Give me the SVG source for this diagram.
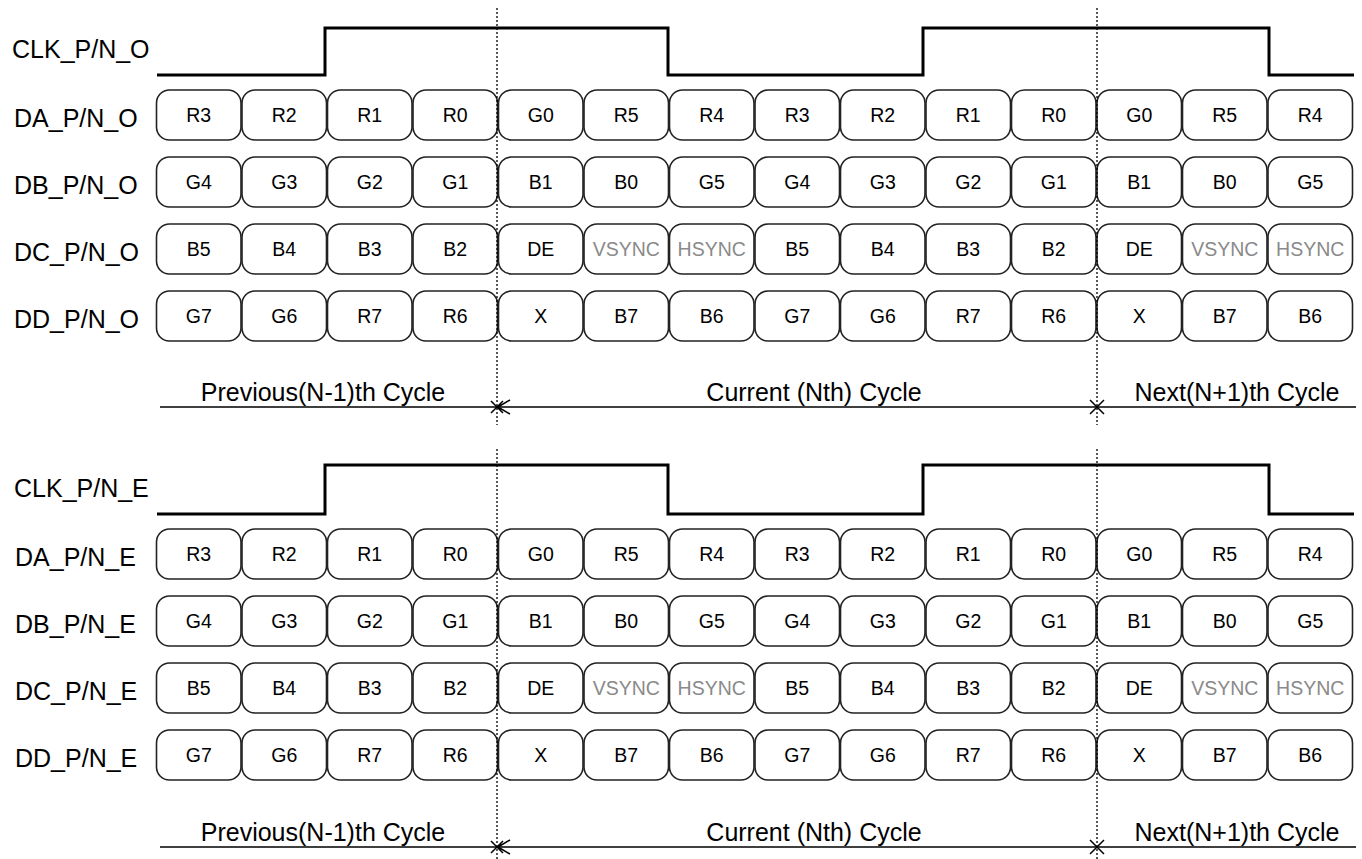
<svg xmlns="http://www.w3.org/2000/svg" width="1362" height="859" viewBox="0 0 1362 859">
<style>
text{font-family:"Liberation Sans",Arial,sans-serif;fill:#000}
.lbl{font-size:25px}
.cyc{font-size:25px;text-anchor:middle}
.b rect{fill:#fff;stroke:#222;stroke-width:1.6}
.b text{font-size:19.5px;text-anchor:middle}
.b text.g{fill:#8a8a8a}
.clk{fill:none;stroke:#000;stroke-width:3}
.dot{stroke:#000;stroke-width:1.3;stroke-dasharray:2,2;fill:none}
.cl{stroke:#000;stroke-width:1.5;fill:none}
</style>
<rect width="1362" height="859" fill="#fff"/>
<defs>
<g id="tpl">
</g>
</defs>

<!-- ODD section -->
<g id="labels-odd">
<text class="lbl" x="12" y="58">CLK_P/N_O</text>
<text class="lbl" x="14" y="126.5">DA_P/N_O</text>
<text class="lbl" x="14" y="193.5">DB_P/N_O</text>
<text class="lbl" x="14" y="260.5">DC_P/N_O</text>
<text class="lbl" x="14" y="327.5">DD_P/N_O</text>
</g>
<g id="clk-odd"><path class="clk" d="M157,75 H325 V28 H668 V75 H923 V28 H1269 V75 H1354"/></g>

<g id="row-da-o" class="b" transform="translate(0,90)">
<g id="da-o-0"><rect x="156.5" y="0" width="84.5" height="50" rx="13"/><text x="198.75" y="32">R3</text></g>
<g id="da-o-1"><rect x="242" y="0" width="84.5" height="50" rx="13"/><text x="284.25" y="32">R2</text></g>
<g id="da-o-2"><rect x="327.5" y="0" width="84.5" height="50" rx="13"/><text x="369.75" y="32">R1</text></g>
<g id="da-o-3"><rect x="413" y="0" width="84.5" height="50" rx="13"/><text x="455.25" y="32">R0</text></g>
<g id="da-o-4"><rect x="498.5" y="0" width="84.5" height="50" rx="13"/><text x="540.75" y="32">G0</text></g>
<g id="da-o-5"><rect x="584" y="0" width="84.5" height="50" rx="13"/><text x="626.25" y="32">R5</text></g>
<g id="da-o-6"><rect x="669.5" y="0" width="84.5" height="50" rx="13"/><text x="711.75" y="32">R4</text></g>
<g id="da-o-7"><rect x="755" y="0" width="84.5" height="50" rx="13"/><text x="797.25" y="32">R3</text></g>
<g id="da-o-8"><rect x="840.5" y="0" width="84.5" height="50" rx="13"/><text x="882.75" y="32">R2</text></g>
<g id="da-o-9"><rect x="926" y="0" width="84.5" height="50" rx="13"/><text x="968.25" y="32">R1</text></g>
<g id="da-o-10"><rect x="1011.5" y="0" width="84.5" height="50" rx="13"/><text x="1053.75" y="32">R0</text></g>
<g id="da-o-11"><rect x="1097" y="0" width="84.5" height="50" rx="13"/><text x="1139.25" y="32">G0</text></g>
<g id="da-o-12"><rect x="1182.5" y="0" width="84.5" height="50" rx="13"/><text x="1224.75" y="32">R5</text></g>
<g id="da-o-13"><rect x="1268" y="0" width="84.5" height="50" rx="13"/><text x="1310.25" y="32">R4</text></g>
</g>

<g id="row-db-o" class="b" transform="translate(0,157)">
<g id="db-o-0"><rect x="156.5" y="0" width="84.5" height="50" rx="13"/><text x="198.75" y="32">G4</text></g>
<g id="db-o-1"><rect x="242" y="0" width="84.5" height="50" rx="13"/><text x="284.25" y="32">G3</text></g>
<g id="db-o-2"><rect x="327.5" y="0" width="84.5" height="50" rx="13"/><text x="369.75" y="32">G2</text></g>
<g id="db-o-3"><rect x="413" y="0" width="84.5" height="50" rx="13"/><text x="455.25" y="32">G1</text></g>
<g id="db-o-4"><rect x="498.5" y="0" width="84.5" height="50" rx="13"/><text x="540.75" y="32">B1</text></g>
<g id="db-o-5"><rect x="584" y="0" width="84.5" height="50" rx="13"/><text x="626.25" y="32">B0</text></g>
<g id="db-o-6"><rect x="669.5" y="0" width="84.5" height="50" rx="13"/><text x="711.75" y="32">G5</text></g>
<g id="db-o-7"><rect x="755" y="0" width="84.5" height="50" rx="13"/><text x="797.25" y="32">G4</text></g>
<g id="db-o-8"><rect x="840.5" y="0" width="84.5" height="50" rx="13"/><text x="882.75" y="32">G3</text></g>
<g id="db-o-9"><rect x="926" y="0" width="84.5" height="50" rx="13"/><text x="968.25" y="32">G2</text></g>
<g id="db-o-10"><rect x="1011.5" y="0" width="84.5" height="50" rx="13"/><text x="1053.75" y="32">G1</text></g>
<g id="db-o-11"><rect x="1097" y="0" width="84.5" height="50" rx="13"/><text x="1139.25" y="32">B1</text></g>
<g id="db-o-12"><rect x="1182.5" y="0" width="84.5" height="50" rx="13"/><text x="1224.75" y="32">B0</text></g>
<g id="db-o-13"><rect x="1268" y="0" width="84.5" height="50" rx="13"/><text x="1310.25" y="32">G5</text></g>
</g>

<g id="row-dc-o" class="b" transform="translate(0,224)">
<g id="dc-o-0"><rect x="156.5" y="0" width="84.5" height="50" rx="13"/><text x="198.75" y="32">B5</text></g>
<g id="dc-o-1"><rect x="242" y="0" width="84.5" height="50" rx="13"/><text x="284.25" y="32">B4</text></g>
<g id="dc-o-2"><rect x="327.5" y="0" width="84.5" height="50" rx="13"/><text x="369.75" y="32">B3</text></g>
<g id="dc-o-3"><rect x="413" y="0" width="84.5" height="50" rx="13"/><text x="455.25" y="32">B2</text></g>
<g id="dc-o-4"><rect x="498.5" y="0" width="84.5" height="50" rx="13"/><text x="540.75" y="32">DE</text></g>
<g id="dc-o-5"><rect x="584" y="0" width="84.5" height="50" rx="13"/><text class="g" x="626.25" y="32">VSYNC</text></g>
<g id="dc-o-6"><rect x="669.5" y="0" width="84.5" height="50" rx="13"/><text class="g" x="711.75" y="32">HSYNC</text></g>
<g id="dc-o-7"><rect x="755" y="0" width="84.5" height="50" rx="13"/><text x="797.25" y="32">B5</text></g>
<g id="dc-o-8"><rect x="840.5" y="0" width="84.5" height="50" rx="13"/><text x="882.75" y="32">B4</text></g>
<g id="dc-o-9"><rect x="926" y="0" width="84.5" height="50" rx="13"/><text x="968.25" y="32">B3</text></g>
<g id="dc-o-10"><rect x="1011.5" y="0" width="84.5" height="50" rx="13"/><text x="1053.75" y="32">B2</text></g>
<g id="dc-o-11"><rect x="1097" y="0" width="84.5" height="50" rx="13"/><text x="1139.25" y="32">DE</text></g>
<g id="dc-o-12"><rect x="1182.5" y="0" width="84.5" height="50" rx="13"/><text class="g" x="1224.75" y="32">VSYNC</text></g>
<g id="dc-o-13"><rect x="1268" y="0" width="84.5" height="50" rx="13"/><text class="g" x="1310.25" y="32">HSYNC</text></g>
</g>

<g id="row-dd-o" class="b" transform="translate(0,291)">
<g id="dd-o-0"><rect x="156.5" y="0" width="84.5" height="50" rx="13"/><text x="198.75" y="32">G7</text></g>
<g id="dd-o-1"><rect x="242" y="0" width="84.5" height="50" rx="13"/><text x="284.25" y="32">G6</text></g>
<g id="dd-o-2"><rect x="327.5" y="0" width="84.5" height="50" rx="13"/><text x="369.75" y="32">R7</text></g>
<g id="dd-o-3"><rect x="413" y="0" width="84.5" height="50" rx="13"/><text x="455.25" y="32">R6</text></g>
<g id="dd-o-4"><rect x="498.5" y="0" width="84.5" height="50" rx="13"/><text x="540.75" y="32">X</text></g>
<g id="dd-o-5"><rect x="584" y="0" width="84.5" height="50" rx="13"/><text x="626.25" y="32">B7</text></g>
<g id="dd-o-6"><rect x="669.5" y="0" width="84.5" height="50" rx="13"/><text x="711.75" y="32">B6</text></g>
<g id="dd-o-7"><rect x="755" y="0" width="84.5" height="50" rx="13"/><text x="797.25" y="32">G7</text></g>
<g id="dd-o-8"><rect x="840.5" y="0" width="84.5" height="50" rx="13"/><text x="882.75" y="32">G6</text></g>
<g id="dd-o-9"><rect x="926" y="0" width="84.5" height="50" rx="13"/><text x="968.25" y="32">R7</text></g>
<g id="dd-o-10"><rect x="1011.5" y="0" width="84.5" height="50" rx="13"/><text x="1053.75" y="32">R6</text></g>
<g id="dd-o-11"><rect x="1097" y="0" width="84.5" height="50" rx="13"/><text x="1139.25" y="32">X</text></g>
<g id="dd-o-12"><rect x="1182.5" y="0" width="84.5" height="50" rx="13"/><text x="1224.75" y="32">B7</text></g>
<g id="dd-o-13"><rect x="1268" y="0" width="84.5" height="50" rx="13"/><text x="1310.25" y="32">B6</text></g>
</g>

<g id="cycles-odd">
<text class="cyc" x="323" y="401">Previous(N-1)th Cycle</text>
<text class="cyc" x="814" y="401">Current (Nth) Cycle</text>
<text class="cyc" x="1237" y="401">Next(N+1)th Cycle</text>
</g>

<!-- EVEN section -->
<g id="labels-even">
<text class="lbl" x="14" y="497">CLK_P/N_E</text>
<text class="lbl" x="15" y="565.5">DA_P/N_E</text>
<text class="lbl" x="15" y="632.5">DB_P/N_E</text>
<text class="lbl" x="15" y="699.5">DC_P/N_E</text>
<text class="lbl" x="15" y="766.5">DD_P/N_E</text>
</g>
<g id="clk-even"><path class="clk" d="M157,514 H325 V465 H668 V514 H923 V465 H1269 V514 H1354"/></g>

<g id="row-da-e" class="b" transform="translate(0,529)">
<g id="da-e-0"><rect x="156.5" y="0" width="84.5" height="50" rx="13"/><text x="198.75" y="32">R3</text></g>
<g id="da-e-1"><rect x="242" y="0" width="84.5" height="50" rx="13"/><text x="284.25" y="32">R2</text></g>
<g id="da-e-2"><rect x="327.5" y="0" width="84.5" height="50" rx="13"/><text x="369.75" y="32">R1</text></g>
<g id="da-e-3"><rect x="413" y="0" width="84.5" height="50" rx="13"/><text x="455.25" y="32">R0</text></g>
<g id="da-e-4"><rect x="498.5" y="0" width="84.5" height="50" rx="13"/><text x="540.75" y="32">G0</text></g>
<g id="da-e-5"><rect x="584" y="0" width="84.5" height="50" rx="13"/><text x="626.25" y="32">R5</text></g>
<g id="da-e-6"><rect x="669.5" y="0" width="84.5" height="50" rx="13"/><text x="711.75" y="32">R4</text></g>
<g id="da-e-7"><rect x="755" y="0" width="84.5" height="50" rx="13"/><text x="797.25" y="32">R3</text></g>
<g id="da-e-8"><rect x="840.5" y="0" width="84.5" height="50" rx="13"/><text x="882.75" y="32">R2</text></g>
<g id="da-e-9"><rect x="926" y="0" width="84.5" height="50" rx="13"/><text x="968.25" y="32">R1</text></g>
<g id="da-e-10"><rect x="1011.5" y="0" width="84.5" height="50" rx="13"/><text x="1053.75" y="32">R0</text></g>
<g id="da-e-11"><rect x="1097" y="0" width="84.5" height="50" rx="13"/><text x="1139.25" y="32">G0</text></g>
<g id="da-e-12"><rect x="1182.5" y="0" width="84.5" height="50" rx="13"/><text x="1224.75" y="32">R5</text></g>
<g id="da-e-13"><rect x="1268" y="0" width="84.5" height="50" rx="13"/><text x="1310.25" y="32">R4</text></g>
</g>

<g id="row-db-e" class="b" transform="translate(0,596)">
<g id="db-e-0"><rect x="156.5" y="0" width="84.5" height="50" rx="13"/><text x="198.75" y="32">G4</text></g>
<g id="db-e-1"><rect x="242" y="0" width="84.5" height="50" rx="13"/><text x="284.25" y="32">G3</text></g>
<g id="db-e-2"><rect x="327.5" y="0" width="84.5" height="50" rx="13"/><text x="369.75" y="32">G2</text></g>
<g id="db-e-3"><rect x="413" y="0" width="84.5" height="50" rx="13"/><text x="455.25" y="32">G1</text></g>
<g id="db-e-4"><rect x="498.5" y="0" width="84.5" height="50" rx="13"/><text x="540.75" y="32">B1</text></g>
<g id="db-e-5"><rect x="584" y="0" width="84.5" height="50" rx="13"/><text x="626.25" y="32">B0</text></g>
<g id="db-e-6"><rect x="669.5" y="0" width="84.5" height="50" rx="13"/><text x="711.75" y="32">G5</text></g>
<g id="db-e-7"><rect x="755" y="0" width="84.5" height="50" rx="13"/><text x="797.25" y="32">G4</text></g>
<g id="db-e-8"><rect x="840.5" y="0" width="84.5" height="50" rx="13"/><text x="882.75" y="32">G3</text></g>
<g id="db-e-9"><rect x="926" y="0" width="84.5" height="50" rx="13"/><text x="968.25" y="32">G2</text></g>
<g id="db-e-10"><rect x="1011.5" y="0" width="84.5" height="50" rx="13"/><text x="1053.75" y="32">G1</text></g>
<g id="db-e-11"><rect x="1097" y="0" width="84.5" height="50" rx="13"/><text x="1139.25" y="32">B1</text></g>
<g id="db-e-12"><rect x="1182.5" y="0" width="84.5" height="50" rx="13"/><text x="1224.75" y="32">B0</text></g>
<g id="db-e-13"><rect x="1268" y="0" width="84.5" height="50" rx="13"/><text x="1310.25" y="32">G5</text></g>
</g>

<g id="row-dc-e" class="b" transform="translate(0,663)">
<g id="dc-e-0"><rect x="156.5" y="0" width="84.5" height="50" rx="13"/><text x="198.75" y="32">B5</text></g>
<g id="dc-e-1"><rect x="242" y="0" width="84.5" height="50" rx="13"/><text x="284.25" y="32">B4</text></g>
<g id="dc-e-2"><rect x="327.5" y="0" width="84.5" height="50" rx="13"/><text x="369.75" y="32">B3</text></g>
<g id="dc-e-3"><rect x="413" y="0" width="84.5" height="50" rx="13"/><text x="455.25" y="32">B2</text></g>
<g id="dc-e-4"><rect x="498.5" y="0" width="84.5" height="50" rx="13"/><text x="540.75" y="32">DE</text></g>
<g id="dc-e-5"><rect x="584" y="0" width="84.5" height="50" rx="13"/><text class="g" x="626.25" y="32">VSYNC</text></g>
<g id="dc-e-6"><rect x="669.5" y="0" width="84.5" height="50" rx="13"/><text class="g" x="711.75" y="32">HSYNC</text></g>
<g id="dc-e-7"><rect x="755" y="0" width="84.5" height="50" rx="13"/><text x="797.25" y="32">B5</text></g>
<g id="dc-e-8"><rect x="840.5" y="0" width="84.5" height="50" rx="13"/><text x="882.75" y="32">B4</text></g>
<g id="dc-e-9"><rect x="926" y="0" width="84.5" height="50" rx="13"/><text x="968.25" y="32">B3</text></g>
<g id="dc-e-10"><rect x="1011.5" y="0" width="84.5" height="50" rx="13"/><text x="1053.75" y="32">B2</text></g>
<g id="dc-e-11"><rect x="1097" y="0" width="84.5" height="50" rx="13"/><text x="1139.25" y="32">DE</text></g>
<g id="dc-e-12"><rect x="1182.5" y="0" width="84.5" height="50" rx="13"/><text class="g" x="1224.75" y="32">VSYNC</text></g>
<g id="dc-e-13"><rect x="1268" y="0" width="84.5" height="50" rx="13"/><text class="g" x="1310.25" y="32">HSYNC</text></g>
</g>

<g id="row-dd-e" class="b" transform="translate(0,730)">
<g id="dd-e-0"><rect x="156.5" y="0" width="84.5" height="50" rx="13"/><text x="198.75" y="32">G7</text></g>
<g id="dd-e-1"><rect x="242" y="0" width="84.5" height="50" rx="13"/><text x="284.25" y="32">G6</text></g>
<g id="dd-e-2"><rect x="327.5" y="0" width="84.5" height="50" rx="13"/><text x="369.75" y="32">R7</text></g>
<g id="dd-e-3"><rect x="413" y="0" width="84.5" height="50" rx="13"/><text x="455.25" y="32">R6</text></g>
<g id="dd-e-4"><rect x="498.5" y="0" width="84.5" height="50" rx="13"/><text x="540.75" y="32">X</text></g>
<g id="dd-e-5"><rect x="584" y="0" width="84.5" height="50" rx="13"/><text x="626.25" y="32">B7</text></g>
<g id="dd-e-6"><rect x="669.5" y="0" width="84.5" height="50" rx="13"/><text x="711.75" y="32">B6</text></g>
<g id="dd-e-7"><rect x="755" y="0" width="84.5" height="50" rx="13"/><text x="797.25" y="32">G7</text></g>
<g id="dd-e-8"><rect x="840.5" y="0" width="84.5" height="50" rx="13"/><text x="882.75" y="32">G6</text></g>
<g id="dd-e-9"><rect x="926" y="0" width="84.5" height="50" rx="13"/><text x="968.25" y="32">R7</text></g>
<g id="dd-e-10"><rect x="1011.5" y="0" width="84.5" height="50" rx="13"/><text x="1053.75" y="32">R6</text></g>
<g id="dd-e-11"><rect x="1097" y="0" width="84.5" height="50" rx="13"/><text x="1139.25" y="32">X</text></g>
<g id="dd-e-12"><rect x="1182.5" y="0" width="84.5" height="50" rx="13"/><text x="1224.75" y="32">B7</text></g>
<g id="dd-e-13"><rect x="1268" y="0" width="84.5" height="50" rx="13"/><text x="1310.25" y="32">B6</text></g>
</g>

<g id="cycles-even">
<text class="cyc" x="323" y="841">Previous(N-1)th Cycle</text>
<text class="cyc" x="814" y="841">Current (Nth) Cycle</text>
<text class="cyc" x="1237" y="841">Next(N+1)th Cycle</text>
</g>

<!-- connectors: boundaries and cycle spans -->
<g id="connectors">
<path class="dot" d="M497,8 V425 M497,449 V859 M1097,8 V425 M1097,449 V859"/>
<path class="cl" d="M160,407 H1356 M160,847 H1356"/>
<path class="cl" d="M491,401 L503,413 M491,413 L503,401 M498,407 L510,400 M498,407 L510,414 M1090,400 L1104,414 M1090,414 L1104,400"/>
<path class="cl" d="M491,841 L503,853 M491,853 L503,841 M498,847 L510,840 M498,847 L510,854 M1090,840 L1104,854 M1090,854 L1104,840"/>
</g>
</svg>
